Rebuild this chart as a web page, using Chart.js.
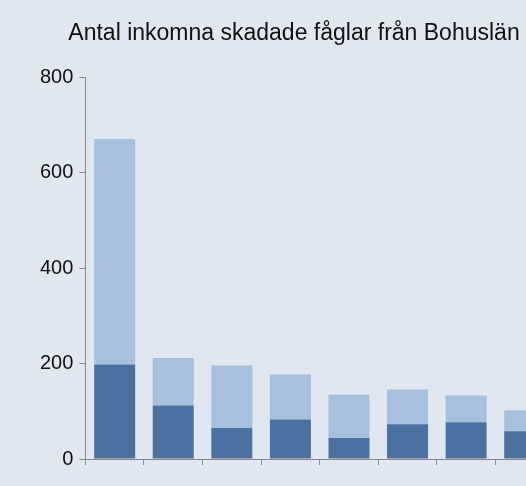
<!DOCTYPE html>
<html><head><meta charset="utf-8">
<script src="https://cdn.jsdelivr.net/npm/chart.js@4/dist/chart.umd.min.js"></script>
<style>
html,body{margin:0;padding:0;overflow:hidden;background:#e0e7f1;}
#wrap{width:556px;height:486px;}
</style></head><body>
<div id="wrap"><canvas id="c" width="556" height="486"></canvas></div>
<script>
// values
const categories = ['1', '2', '3', '4', '5', '6', '7', '8'];
const darkPart = [198, 112, 65, 83, 44, 73, 77, 58];
const lightPart = [473, 100, 131, 94, 91, 73, 56, 44];
const yTicks = [0, 200, 400, 600, 800];

new Chart(document.getElementById('c'), {
  type: 'bar',
  data: {
    labels: categories,
    datasets: [
      { data: darkPart, backgroundColor: '#4a71a0', categoryPercentage: 0.7, barPercentage: 1 },
      { data: lightPart, backgroundColor: '#a7c0de', categoryPercentage: 0.7, barPercentage: 1 }
    ]
  },
  options: {
    responsive: false,
    animation: false,
    layout: { padding: { left: 34, right: 2, top: 0, bottom: 21 } },
    plugins: {
      legend: { display: false },
      tooltip: { enabled: false },
      title: {
        display: true,
        text: 'Antal inkomna skadade fåglar från Bohuslän',
        color: '#111',
        font: { family: 'Liberation Sans', size: 23, weight: 'normal' },
        padding: { top: 20, bottom: 30 }
      }
    },
    scales: {
      x: {
        stacked: true,
        grid: { display: true, drawOnChartArea: false, color: '#888', tickLength: 6, offset: true },
        border: { color: '#888' },
        ticks: { display: false }
      },
      y: {
        stacked: true,
        min: 0, max: 800,
        afterBuildTicks: a => { a.ticks = yTicks.map(v => ({ value: v })); },
        grid: { drawOnChartArea: false, color: '#888', tickLength: 6 },
        border: { color: '#888' },
        ticks: { color: '#111', font: { family: 'Liberation Sans', size: 20 }, padding: 6 }
      }
    }
  }
});
</script>
</body></html>
